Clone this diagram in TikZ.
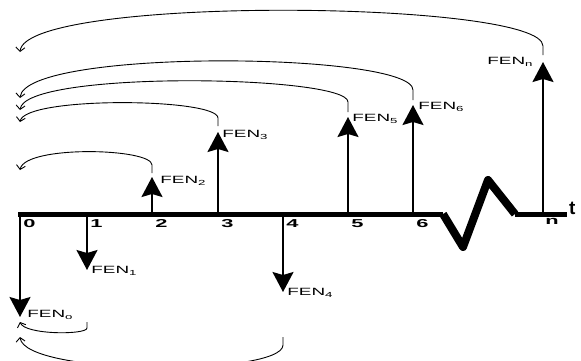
\documentclass[tikz,border=0pt]{standalone}
\usepackage{fontspec}
\setmainfont{Liberation Sans}
\usetikzlibrary{arrows.meta}
\begin{document}
\begin{tikzpicture}[x=1pt,y=-1pt,
  axisline/.style={line width=5pt},
  zig/.style={line width=8pt,line join=round},
  flow/.style={line width=1.8pt,-{Stealth[length=20pt,width=21pt,inset=3pt]}},
  ret/.style={line width=0.9pt,-{Straight Barb[length=4pt,width=9pt]}},
  fen/.style={anchor=west,inner sep=0pt,font=\fontsize{10.5}{11}\selectfont,xscale=1.8,transform shape},
  tick/.style={anchor=north west,inner sep=0pt,font=\fontsize{11.5}{12}\selectfont\bfseries,xscale=1.9,transform shape}
]
\clip (0,0) rectangle (581,360);
\fill[white] (0,0) rectangle (581,360);
% axis
\coordinate (a0) at (18,214);
\coordinate (z1) at (443,214);
\coordinate (z2) at (463,247);
\coordinate (z3) at (488,180);
\coordinate (z4) at (515,214);
\coordinate (aend) at (567,214);
\draw[axisline] (a0) -- (z1);
\draw[zig] (z1) -- (z2) -- (z3) -- (z4);
\draw[axisline] (z4) -- (aend);
\node[anchor=west,inner sep=0pt,font=\fontsize{19}{19}\selectfont\bfseries] (tlab) at (569,208) {t};
% tick points on axis
\coordinate (p0) at (20,214);
\coordinate (p1) at (87,214);
\coordinate (p2) at (152,214);
\coordinate (p3) at (218,214);
\coordinate (p4) at (283,214);
\coordinate (p5) at (348,214);
\coordinate (p6) at (413,214);
\coordinate (pn) at (543,214);
% tick labels
\node[tick] (l0) at (23,219.5) {0};
\node[tick] (l1) at (90,219.5) {1};
\node[tick] (l2) at (155,219.5) {2};
\node[tick] (l3) at (221,219.5) {3};
\node[tick] (l4) at (286,219.5) {4};
\node[tick] (l5) at (351,219.5) {5};
\node[tick] (l6) at (416,219.5) {6};
\node[tick] (ln) at (545,218.5) {n};
% arrow tips
\coordinate (e0) at (20,317);
\coordinate (e1) at (87,270);
\coordinate (e2) at (152,177);
\coordinate (e3) at (218,132);
\coordinate (e4) at (283,292);
\coordinate (e5) at (348,117);
\coordinate (e6) at (413,105);
\coordinate (en) at (543,62);
\foreach \i in {0,1,2,3,4,5,6,n} \draw[flow] (p\i) -- (e\i);
% labels
\node[fen] (f0) at (27,315) {FEN\textsubscript{o}};
\node[fen] (f1) at (91,271) {FEN\textsubscript{1}};
\node[fen] (f2) at (160,181) {FEN\textsubscript{2}};
\node[fen] (f3) at (222,135) {FEN\textsubscript{3}};
\node[fen] (f4) at (287,293) {FEN\textsubscript{4}};
\node[fen] (f5) at (352,119) {FEN\textsubscript{5}};
\node[fen] (f6) at (418,107) {FEN\textsubscript{6}};
\node[fen] (fn) at (487,62) {FEN\textsubscript{n}};
% return arcs (top)
\coordinate (s2) at (152,173); \coordinate (t2) at (20,170);
\coordinate (s3) at (218,126); \coordinate (t3) at (20,122);
\coordinate (s5) at (348,112); \coordinate (t5) at (20,110);
\coordinate (s6) at (413,100); \coordinate (t6) at (20,98);
\coordinate (sn) at (543,55);  \coordinate (tn) at (20,52);
\draw[ret] (s2) -- ++(0,-8) .. controls (152,148) and (25,145) .. (t2);
\draw[ret] (s3) -- ++(0,-8) .. controls (218,98) and (25,96) .. (t3);
\draw[ret] (s5) -- ++(0,-10) .. controls (348,75) and (25,70) .. (t5);
\draw[ret] (s6) -- ++(0,-10) .. controls (413,52) and (25,48) .. (t6);
\draw[ret] (sn) -- ++(0,-9) .. controls (543,0) and (25,-5) .. (tn);
% return arcs (bottom)
\coordinate (s1) at (87,322); \coordinate (t1) at (20,322);
\coordinate (s4) at (283,337); \coordinate (t4) at (20,337);
\draw[ret] (s1) -- ++(0,6) .. controls (87,335) and (25,335) .. (t1);
\draw[ret] (s4) -- ++(0,8) .. controls (283,376) and (25,376) .. (t4);
\end{tikzpicture}
\end{document}
